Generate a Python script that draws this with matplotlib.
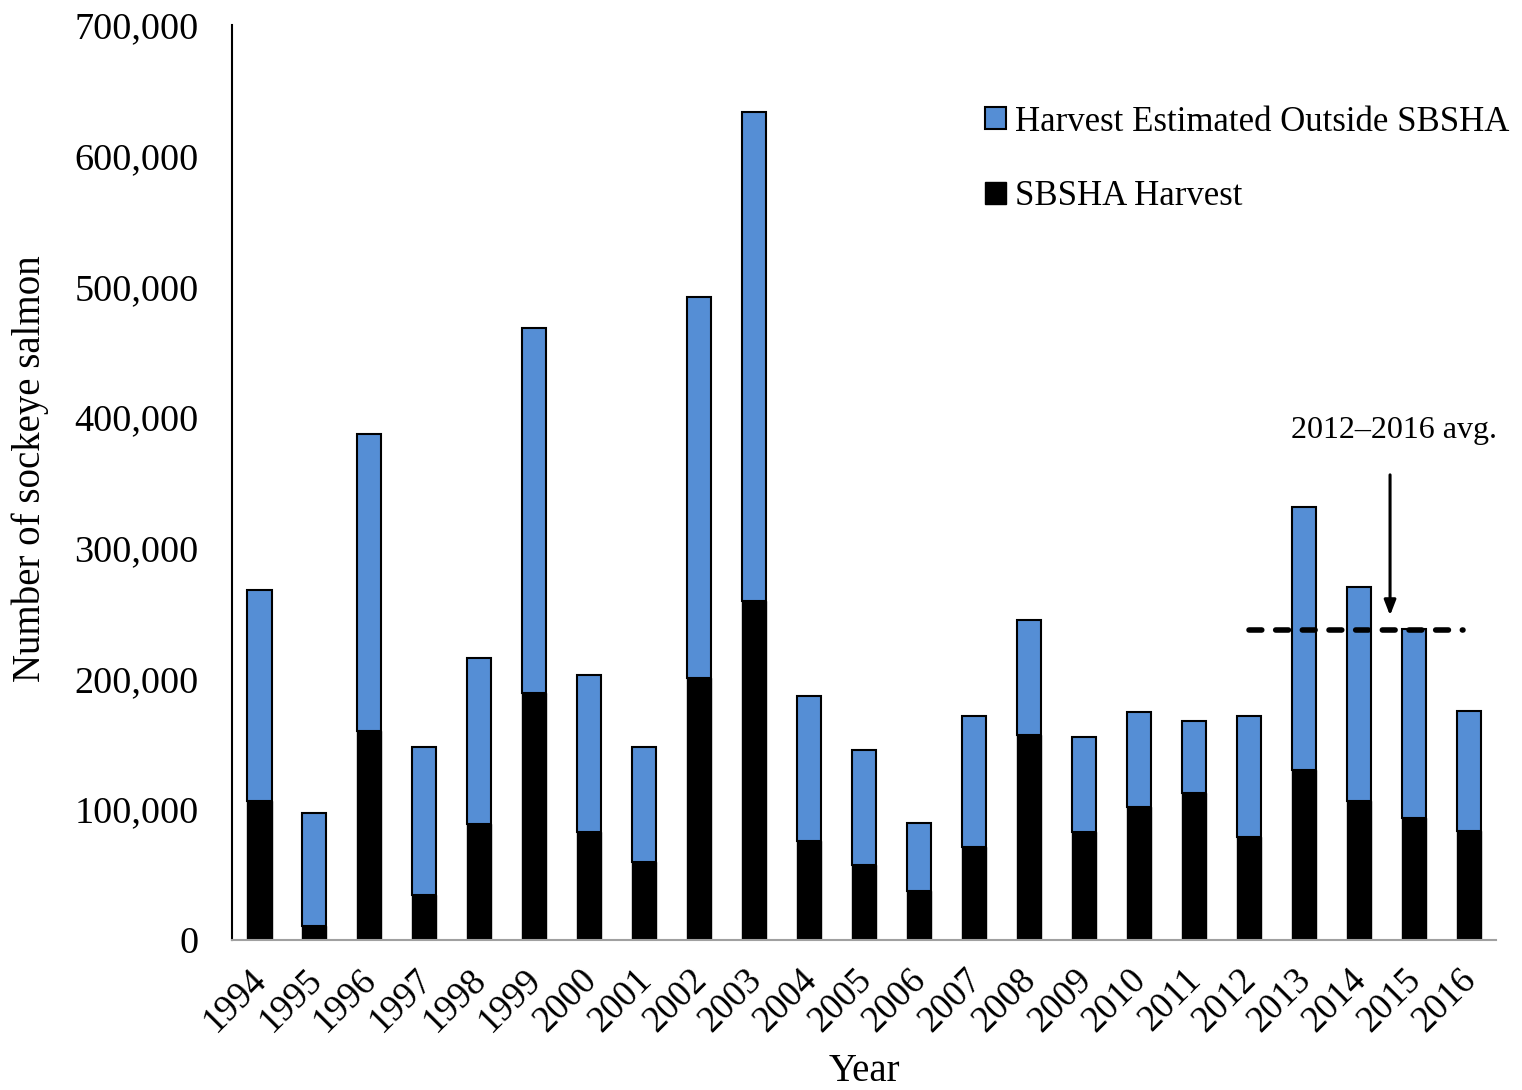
import numpy as np
import matplotlib.pyplot as plt
import matplotlib.transforms as mtransforms
from matplotlib.ticker import FuncFormatter

plt.rcParams['font.family'] = ['Liberation Serif', 'DejaVu Serif']

# harvest data
years = [str(y) for y in range(1994, 2017)]
total = [267800, 97200, 387100, 147700, 215700, 468200, 202700, 147700, 491900,
         633400, 186700, 145400, 89500, 171400, 244800, 155300, 174400, 167500,
         171400, 331300, 270100, 237900, 175200]
sbsha = [106300, 10700, 159900, 34400, 88700, 189000, 82600, 59700, 200400,
         259300, 75700, 57400, 37500, 71200, 156800, 82600, 101800, 112500,
         78800, 130100, 106300, 93300, 83400]
outside = [t - s for t, s in zip(total, sbsha)]
avg_years = years[-5:]
avg_value = np.mean(total[-5:])

blue = '#558ED5'

fig = plt.figure(figsize=(15.22, 10.9), dpi=100)
ax = fig.add_axes([0.1524, 0.1376, 0.8306, 0.8394])

x = np.arange(len(years))
ax.bar(x, sbsha, width=0.44, color='black', edgecolor='black', linewidth=1,
       label='SBSHA Harvest', zorder=2)
ax.bar(x, outside, width=0.44, bottom=sbsha, color=blue, edgecolor='black',
       linewidth=1.5, label='Harvest Estimated Outside SBSHA', zorder=2)

# 5-year average line
ax.plot([x[years.index(avg_years[0])], x[-1] - 0.1], [avg_value, avg_value],
        color='black', linewidth=4, linestyle=(0, (2.3, 2.5)),
        dash_capstyle='round', zorder=3)
ax.annotate('', xy=(20.57, avg_value + 9000), xytext=(20.57, 358000),
            arrowprops=dict(arrowstyle='-|>,head_length=0.9,head_width=0.35',
                            color='black', linewidth=2.2))
ax.text(20.65, 390000, '2012\u20132016 avg.', ha='center', va='center', fontsize=23)

ax.set_xlim(-0.5, len(years) - 0.5)
ax.set_ylim(0, 700000)
ax.set_yticks(range(0, 700001, 100000))
ax.yaxis.set_major_formatter(FuncFormatter(lambda v, p: f'{int(v):,}'))
ax.set_xticks(x)
ax.set_xticklabels(years, rotation=45, ha='right', va='top', rotation_mode='anchor')
ax.tick_params(axis='y', length=0, labelsize=27.5, pad=24)
ax.tick_params(axis='x', length=0, labelsize=26.5, pad=16)
shift = mtransforms.ScaledTranslation(-10 / 100, 0, fig.dpi_scale_trans)
for lbl in ax.get_xticklabels():
    lbl.set_transform(lbl.get_transform() + shift)

for s in ['top', 'right']:
    ax.spines[s].set_visible(False)
ax.spines['left'].set_color('black')
ax.spines['left'].set_linewidth(1.5)
ax.spines['bottom'].set_color('#A0A0A0')
ax.spines['bottom'].set_linewidth(1.5)

ax.set_ylabel('Number of sockeye salmon', fontsize=28, labelpad=18)
ax.yaxis.label.set_y(0.515)
ax.set_xlabel('Year', fontsize=28, labelpad=10)

handles, labels = ax.get_legend_handles_labels()
ax.legend(handles[::-1], labels[::-1], loc='upper left', bbox_to_anchor=(0.5957, 0.912),
          frameon=False, fontsize=25, handlelength=0.6, handleheight=0.6,
          handletextpad=0.25, labelspacing=1.2, borderpad=0, borderaxespad=0)

fig.savefig('out.png', dpi=100)
